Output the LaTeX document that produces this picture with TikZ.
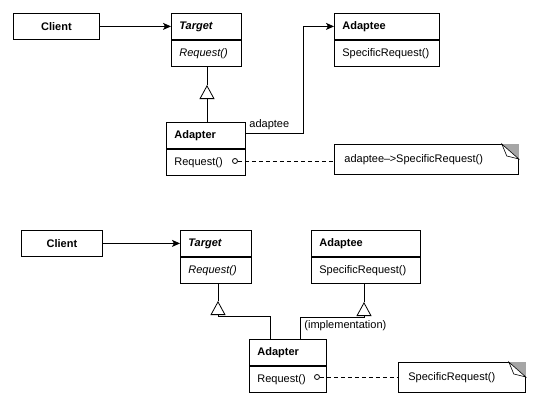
\documentclass[tikz,border=0pt]{standalone}
\usepackage{fontspec}
\setmainfont{Liberation Sans}
\usetikzlibrary{arrows.meta,calc}
\begin{document}
\begin{tikzpicture}[x=1pt,y=-1pt,
  font=\fontsize{11}{13}\selectfont,
  every path/.style={line width=0.8pt},
  cls/.style={draw, line width=0.8pt, anchor=north west, inner xsep=8pt, inner ysep=0pt, align=left, minimum height=26pt},
  notebox/.style={draw, line width=0.8pt, anchor=north west, inner xsep=10pt, inner ysep=0pt, align=left, minimum height=30pt},
  assoc/.style={-{Stealth[length=8pt,width=7pt,inset=2pt]}},
  inh/.style={-{Triangle[open,length=14pt,width=15pt,fill=white]}},
  lbl/.style={inner sep=0pt}
]
\useasboundingbox (0,0) rectangle (541,408);

% ---------- top diagram ----------
\node[cls, align=center, text width=70pt] (cl1) at (13,13) {\textbf{Client}};
\node[cls, text width=54pt] (tg1h) at (171,13) {\textbf{\textit{Target}}};
\node[cls, text width=54pt] (tg1m) at (tg1h.south west) {\textit{Request()}};
\node[cls, text width=89pt] (ae1h) at (334,13) {\textbf{Adaptee}};
\node[cls, text width=89pt] (ae1m) at (ae1h.south west) {SpecificRequest()};
\node[cls, text width=63pt] (ar1h) at (166,122) {\textbf{Adapter}};
\node[cls, text width=63pt] (ar1m) at (ar1h.south west) {Request()};
\node[notebox, text width=164pt] (nt1) at (334,144) {adaptee--\hspace{-0.5pt}>SpecificRequest()};

\draw[assoc] (cl1.east) -- (tg1h.west);
\coordinate (tip1) at (207,85);
\draw (tg1m.south -| tip1) -- (tip1);
\draw[inh] (ar1h.north -| tip1) -- (tip1);
\coordinate (bend1) at (303,133);
\draw[assoc] (ar1h.east |- bend1) -- (bend1) |- (ae1h.west);
\node[lbl, anchor=south west] (lb1) at (249,130) {adaptee};
\node[draw, circle, inner sep=0pt, minimum size=5pt, fill=white] (c1) at (235,161) {};
\draw[dashed, dash pattern=on 4pt off 3pt] (c1.east) -- (nt1.west |- c1);
\fill[gray!70] ($(nt1.north east)+(-17pt,0pt)$) -- (nt1.north east) -- ($(nt1.north east)+(0pt,-15pt)$) -- cycle;
\draw[fill=white, line width=0.6pt] ($(nt1.north east)+(-17pt,0pt)$) -- ($(nt1.north east)+(-12pt,-12pt)$) -- ($(nt1.north east)+(0pt,-15pt)$) -- cycle;

% ---------- bottom diagram ----------
\node[cls, align=center, text width=65pt] (cl2) at (21,230) {\textbf{Client}};
\node[cls, text width=55pt] (tg2h) at (180,230) {\textbf{\textit{Target}}};
\node[cls, text width=55pt] (tg2m) at (tg2h.south west) {\textit{Request()}};
\node[cls, text width=93pt] (ae2h) at (311,230) {\textbf{Adaptee}};
\node[cls, text width=93pt] (ae2m) at (ae2h.south west) {SpecificRequest()};
\node[cls, text width=61pt] (ar2h) at (249,339) {\textbf{Adapter}};
\node[cls, text width=61pt] (ar2m) at (ar2h.south west) {Request()};
\node[notebox, text width=107pt] (nt2) at (398,362) {SpecificRequest()};

\draw[assoc] (cl2.east) -- (tg2h.west);
\coordinate (tip2) at (218,301);
\coordinate (base2) at (218,316);
\coordinate (up2) at (270,316);
\draw (tg2m.south -| tip2) -- (tip2);
\draw[inh] (ar2h.north -| up2) -- (up2) -- (base2) -- (tip2);
\coordinate (tip3) at (364,302);
\coordinate (base3) at (364,317);
\coordinate (up3) at (300,317);
\draw (ae2m.south -| tip3) -- (tip3);
\draw[inh] (ar2h.north -| up3) -- (up3) -- (base3) -- (tip3);
\node[lbl, anchor=west] (lb2) at (304,326) {(implementation)};
\node[draw, circle, inner sep=0pt, minimum size=5pt, fill=white] (c2) at (317,377) {};
\draw[dashed, dash pattern=on 4pt off 3pt] (c2.east) -- (nt2.west |- c2);
\fill[gray!70] ($(nt2.north east)+(-17pt,0pt)$) -- (nt2.north east) -- ($(nt2.north east)+(0pt,-15pt)$) -- cycle;
\draw[fill=white, line width=0.6pt] ($(nt2.north east)+(-17pt,0pt)$) -- ($(nt2.north east)+(-12pt,-12pt)$) -- ($(nt2.north east)+(0pt,-15pt)$) -- cycle;
\end{tikzpicture}
\end{document}
